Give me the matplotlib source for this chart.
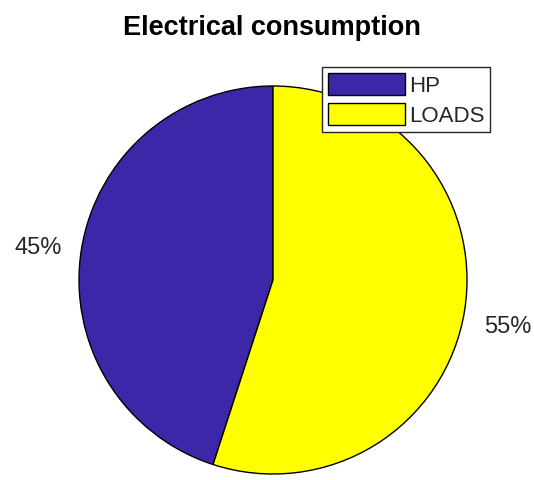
import matplotlib.pyplot as plt

# datos
categorias = ['HP', 'LOADS']
valores = [45, 55]
etiquetas = ['45%', '55%']
colores = ['#3E26A8', '#FFFF00']

plt.rcParams['font.family'] = ['Liberation Sans', 'DejaVu Sans']

W, H = 534, 481
fig = plt.figure(figsize=(W / 100, H / 100), dpi=100)
ax = fig.add_axes([0, 0, 1, 1])

# centro y radio del pastel en pixeles
cx, cy, R = 273, 281, 194

wedges, textos = ax.pie(valores, labels=etiquetas, colors=colores, startangle=90,
                        counterclock=True, labeldistance=1.2,
                        wedgeprops={'edgecolor': 'black', 'linewidth': 1.0},
                        textprops={'fontsize': 17, 'color': '#262626'})
# ajustar un poco la posicion de las etiquetas (como en MATLAB)
pos_px = [(38, 248), (508, 327)]
for t, (px, py) in zip(textos, pos_px):
    t.set_ha('center')
    t.set_va('center')
    t.set_position(((px - cx) / R, (cy - py) / R))

ax.set_xlim(-cx / R, (W - cx) / R)
ax.set_ylim(-(H - cy) / R, cy / R)
ax.set_aspect('auto')
ax.axis('off')

fig.text(272 / W, 1 - 28 / H, 'Electrical consumption', ha='center', va='center',
         fontsize=19.5, fontweight='bold')

leg = ax.legend(wedges, categorias, loc='upper right',
                bbox_to_anchor=(490 / W, 1 - 68 / H), bbox_transform=fig.transFigure,
                borderaxespad=0, fontsize=16, handlelength=3.45, handleheight=1.15,
                handletextpad=0.2, labelspacing=0.3, borderpad=0.25,
                fancybox=False, framealpha=1, edgecolor='#262626')
leg.get_frame().set_linewidth(1.0)
for txt in leg.get_texts():
    txt.set_color('#262626')

fig.savefig('out.png', dpi=100)
